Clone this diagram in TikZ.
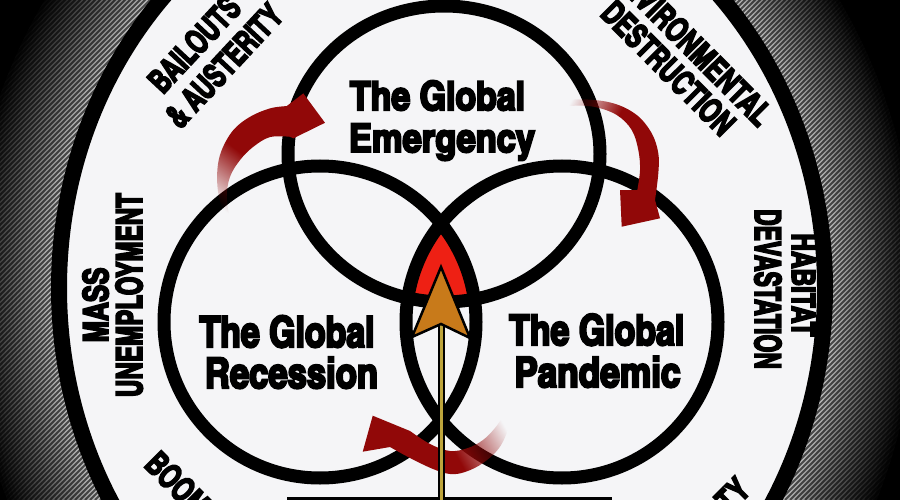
\documentclass[tikz,border=0pt]{standalone}
\usepackage{fontspec}
\usepackage{graphicx}
\usetikzlibrary{fadings}
\IfFontExistsTF{texgyreheroscn-bold.otf}
  {\newfontfamily\impfam{texgyreheroscn-bold.otf}[FakeBold=5]}
  {\newfontfamily\impfam{Liberation Sans Bold}[FakeBold=5]}
\definecolor{paper}{RGB}{245,245,247}
\definecolor{hotred}{RGB}{238,32,20}
\definecolor{arrowred}{RGB}{145,8,8}
\definecolor{headorange}{RGB}{200,122,26}
\definecolor{shaftgold}{RGB}{190,165,60}
\pgfdeclarehorizontalshading{fdsh}{100bp}{color(0bp)=(black); color(26bp)=(black); color(47bp)=(white); color(100bp)=(white)}
\pgfdeclarefading{fdR}{\pgfuseshading{fdsh}}
\newcommand\lbltext[3]{\resizebox{#1pt}{#2pt}{\impfam #3}}
\tikzset{
  lbl/.style={inner sep=0pt, outer sep=0pt},
  ring/.style={draw=black, line width=13pt},
  stripe/.style={draw=black, line width=2pt, opacity=0.6},
  curvearrow/.style={fill=arrowred, path fading=fdR}
}
\begin{document}
\begin{tikzpicture}[x=1pt,y=-1pt]
\useasboundingbox (0,0) rectangle (900,500);
\clip (0,0) rectangle (900,500);
% background
\fill[black] (0,0) rectangle (900,500);
\foreach \i in {0,...,44}{
  \pgfmathsetmacro\s{1.45-0.01*\i}
  \pgfmathtruncatemacro\p{12+88*(min(1,(\s-1)/0.25))^0.8}
  \fill[black!\p] (442,288) ellipse [x radius=383pt*\s, y radius=424pt*\s];
}
\foreach \x in {-520,-515,...,900}
  \draw[stripe] (\x,500) -- ++(520,-520);
% big ring
\coordinate (C) at (442,288);
\filldraw[fill=paper, draw=black, line width=16pt] (C) ellipse [x radius=383pt, y radius=424pt];
% centre red region
\coordinate (T) at (444,154);
\coordinate (L) at (320,322);
\coordinate (R) at (562,322);
\begin{scope}
  \clip (L) circle (156pt);
  \clip (R) circle (156pt);
  \fill[hotred] (T) ellipse [x radius=156pt, y radius=148pt];
\end{scope}
\draw[ring] (T) ellipse [x radius=156pt, y radius=148pt];
\draw[ring] (L) circle (156pt);
\draw[ring] (R) circle (156pt);
% bottom bar
\fill[black] (287,496.5) rectangle (612,502);
% red curved arrows
\fill[curvearrow, fading angle=60]
 (325,122.7) -- (293.3,138.3)
 -- plot[smooth, tension=0.6] coordinates {(290,136.7) (270,137) (253.3,146.7) (240,160) (230,176.7) (226.7,196.7) (230,216.7) (240,233.3) (245,238.3)}
 -- plot[smooth, tension=0.6] coordinates {(245,238.3) (233.3,233.3) (225,216.7) (218.3,193.3) (217.3,170) (221.7,150) (233.3,130) (250,116.7) (270,108.3) (286.7,106)}
 -- (303.3,93.3) -- cycle;
\fill[curvearrow, fading angle=-30]
 plot[smooth, tension=0.6] coordinates {(545,108.3) (566.7,106) (593.3,106.7) (616.7,115) (631.7,130) (638.3,150) (640,170) (637.3,190)}
 -- (620,190) -- (621.7,226.7) -- (660,218.3) -- (655,200)
 -- plot[smooth, tension=0.6] coordinates {(655,200) (658.3,173.3) (658.3,153.3) (651.7,133.3) (636.7,115) (613.3,103.3) (583.3,99.3) (560,101.7) (545,108.3)} -- cycle;
\fill[curvearrow, fading angle=195]
 (372.7,415.7) -- (410,431)
 -- plot[smooth, tension=0.6] coordinates {(410,431) (430,444) (450,451) (468,448) (483,440) (495,428) (504,415) (511.7,403.3)}
 -- plot[smooth, tension=0.6] coordinates {(511.7,403.3) (510,423) (500,446.7) (483,463) (465,472) (450,474) (433,469) (410,458) (390,447)}
 -- (362.7,451.7) -- cycle;
% golden arrow
\coordinate (tip) at (441,267);
\coordinate (bl) at (412,337);
\coordinate (br) at (470,338);
\coordinate (notch) at (441,324);
\coordinate (sb) at (441,502);
\draw[line width=7pt, black] (sb) -- (notch);
\draw[line width=3pt, shaftgold] (sb) -- (notch);
\filldraw[fill=headorange, draw=black, line width=2.5pt, line join=miter] (tip) -- (br) -- (notch) -- (bl) -- cycle;
% main labels
\node[lbl, anchor=base] (emg1) at (437.5,110) {\lbltext{175}{29.5}{The Global}};
\node[lbl, anchor=base] (emg2) at (442,152) {\lbltext{186}{28.5}{Emergency}};
\node[lbl, anchor=base] (rec1) at (287,347) {\lbltext{175}{31.5}{The Global}};
\node[lbl, anchor=base] (rec2) at (291.5,388) {\lbltext{173}{31}{Recession}};
\node[lbl, anchor=base] (pan1) at (596.7,345) {\lbltext{175}{31.2}{The Global}};
\node[lbl, anchor=base] (pan2) at (597.5,387) {\lbltext{166}{30.8}{Pandemic}};
% ring labels
\node[lbl, anchor=base, rotate=90] (mass) at (108,305) {\lbltext{75}{25.5}{MASS}};
\node[lbl, anchor=base, rotate=90] (unemp) at (142,295) {\lbltext{204}{26.5}{UNEMPLOYMENT}};
\node[lbl, anchor=base, rotate=-90] (habitat) at (792,285) {\lbltext{103}{23}{HABITAT}};
\node[lbl, anchor=base, rotate=-90] (devast) at (755,289) {\lbltext{160}{26.5}{DEVASTATION}};
\node[lbl, anchor=base west, rotate=47] (bail) at (163,95) {\lbltext{117}{24.5}{BAILOUTS}};
\node[lbl, anchor=base west, rotate=47] (aust) at (180,130) {\lbltext{154}{24.5}{\& AUSTERITY}};
\node[lbl, anchor=base east, rotate=-45.2] (env) at (758,128) {\lbltext{211}{24.5}{ENVIRONMENTAL}};
\node[lbl, anchor=base west, rotate=-45.2] (dest) at (599,15) {\lbltext{173}{24.5}{DESTRUCTION}};
\node[lbl, anchor=base west, rotate=-45] (boom) at (143,466) {\lbltext{74}{24.5}{BOOM}};
\node[lbl, anchor=base east, rotate=45] (pov) at (752,492) {\lbltext{115}{24.5}{POVERTY}};
\end{tikzpicture}
\end{document}
